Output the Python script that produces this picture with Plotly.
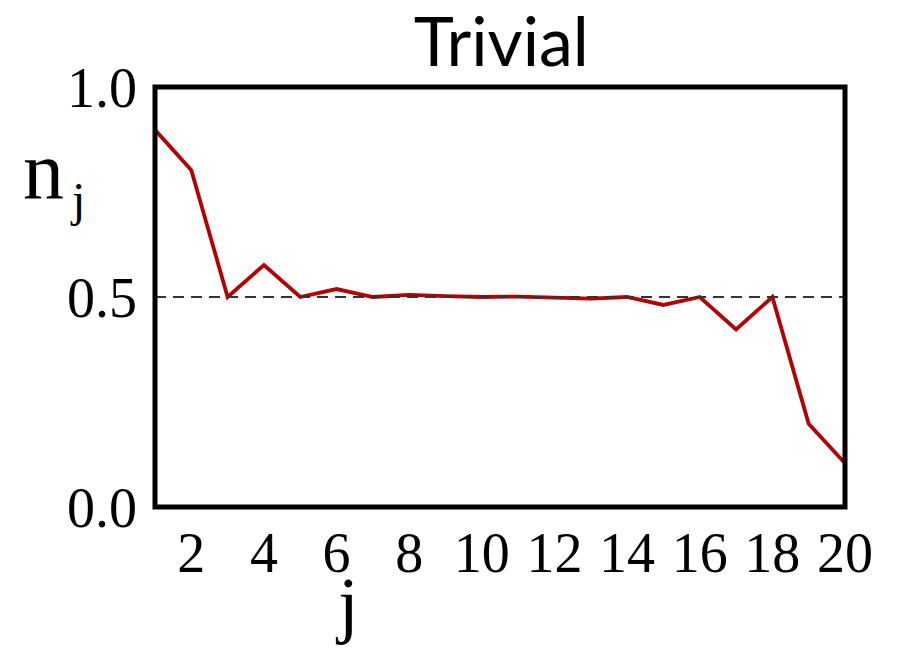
import plotly.graph_objects as go

# site index and occupation of each site
sites = list(range(1, 21))
occupation = [0.898, 0.802, 0.500, 0.576, 0.500, 0.519, 0.500, 0.505, 0.502, 0.500,
              0.501, 0.499, 0.496, 0.500, 0.481, 0.500, 0.423, 0.500, 0.198, 0.104]

x_ticks = list(range(2, 21, 2))
y_ticks = [0.0, 0.5, 1.0]
y_tick_text = ["0.0", "0.5", "1.0"]
half_filling = 0.5

serif = "Liberation Serif, Times New Roman, serif"

fig = go.Figure()

fig.add_trace(go.Scatter(
    x=sites, y=occupation, mode="lines",
    line=dict(color="#b40000", width=3.8),
    hoverinfo="x+y", showlegend=False,
))

# reference line at half filling
fig.add_hline(y=half_filling, line=dict(color="#333333", width=2, dash="11px,7px"))

# thick frame round the plot area
fig.add_shape(type="rect", xref="paper", yref="paper", x0=0, x1=1, y0=0, y1=1,
              line=dict(color="black", width=5), layer="above")

fig.update_layout(
    width=900, height=649,
    margin=dict(l=155, r=55, t=87, b=142),
    paper_bgcolor="white", plot_bgcolor="white",
    title=dict(text="Trivial", x=0.557, xanchor="center", y=0.898, yanchor="bottom",
               font=dict(family="Lato, Noto Sans, sans-serif", size=68, color="black")),
    xaxis=dict(range=[1, 20], tickmode="array", tickvals=x_ticks,
               showgrid=False, zeroline=False, showline=False,
               ticks="", ticklabelstandoff=8,
               tickfont=dict(family=serif, size=56, color="black")),
    yaxis=dict(range=[0, 1], tickmode="array", tickvals=y_ticks, ticktext=y_tick_text,
               showgrid=False, zeroline=False, showline=False,
               ticks="", ticklabelstandoff=17,
               tickfont=dict(family=serif, size=56, color="black")),
)

# axis titles: n with subscript j, and j under the x axis
fig.add_annotation(text="n", xref="paper", yref="paper", x=-0.161, y=0.801,
                   xanchor="center", yanchor="middle", showarrow=False,
                   font=dict(family=serif, size=82, color="black"))
fig.add_annotation(text="j", xref="paper", yref="paper", x=-0.112, y=0.733,
                   xanchor="center", yanchor="middle", showarrow=False,
                   font=dict(family=serif, size=48, color="black"))
fig.add_annotation(text="j", xref="paper", yref="paper", x=0.278, y=-0.232,
                   xanchor="center", yanchor="middle", showarrow=False,
                   font=dict(family=serif, size=74, color="black"))

fig.write_html("out.html")
